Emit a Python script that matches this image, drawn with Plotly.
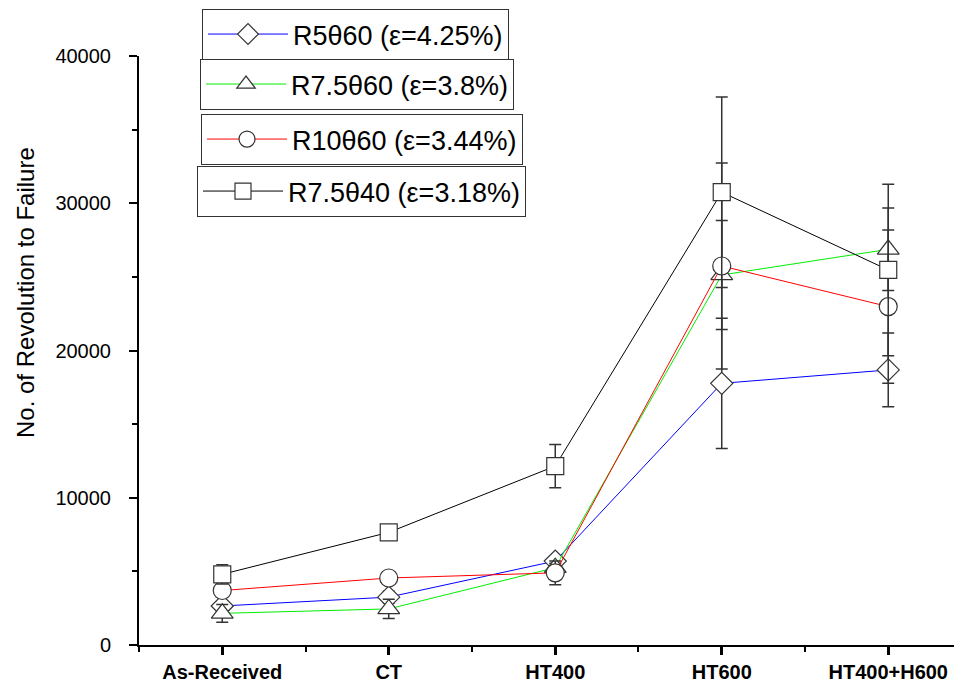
import plotly.graph_objects as go

categories = ["As-Received", "CT", "HT400", "HT600", "HT400+H600"]
x_pos = [0, 1, 2, 3, 4]

names = ["R5θ60 (ε=4.25%)", "R7.5θ60 (ε=3.8%)", "R10θ60 (ε=3.44%)", "R7.5θ40 (ε=3.18%)"]
r5_60 = [2650, 3250, 5700, 17770, 18680]
r5_60_err = [300, 400, 300, 4420, 2500]
r75_60 = [2150, 2450, 5250, 25130, 26870]
r75_60_err = [600, 650, 300, 3700, 2800]
r10_60 = [3700, 4550, 4900, 25740, 22980]
r10_60_err = [300, 400, 800, 7000, 5200]
r75_40 = [4800, 7650, 12150, 30750, 25470]
r75_40_err = [650, 200, 1470, 6470, 5820]

series = [
    (names[0], r5_60, r5_60_err, "#0000ff", "diamond", 17, "legend"),
    (names[1], r75_60, r75_60_err, "#00ee00", "triangle-up", 19, "legend2"),
    (names[2], r10_60, r10_60_err, "#ff0000", "circle", 18, "legend3"),
    (names[3], r75_40, r75_40_err, "#000000", "square", 17, "legend4"),
]

FONT = "Arial, 'Liberation Sans', sans-serif"
OFF = 8  # page body margin
W, H = 962 - OFF, 686 - OFF

fig = go.Figure()
for name, vals, errs, col, sym, size, lg in series:
    fig.add_trace(go.Scatter(
        x=x_pos, y=vals, name=name, mode="lines+markers",
        line=dict(color=col, width=1),
        marker=dict(symbol=sym, size=size, color="white",
                    line=dict(color="#333333", width=1.2)),
        error_y=dict(type="data", array=errs, visible=True, color="#333333",
                     thickness=1.5, width=6),
        legend=lg,
    ))

legend_common = dict(
    xref="container", yref="container", xanchor="left", yanchor="top",
    bgcolor="white", bordercolor="#333333", borderwidth=1,
    font=dict(family=FONT, size=27, color="black"),
    itemwidth=80, tracegroupgap=0,
)
legend_boxes = [(202, 9), (200, 59), (201, 114), (197, 166)]
lkeys = ["legend", "legend2", "legend3", "legend4"]
legends = {}
for key, (lx, ly) in zip(lkeys, legend_boxes):
    legends[key] = dict(legend_common, x=(lx - OFF) / W, y=1 - (ly - OFF) / H)

fig.update_layout(
    width=W, height=H,
    margin=dict(l=139 - OFF, r=0, t=56 - OFF, b=41, autoexpand=False),
    plot_bgcolor="white", paper_bgcolor="white",
    showlegend=True,
    font=dict(family=FONT, color="black"),
    xaxis=dict(
        range=[-0.5, 4.443], tickmode="array", tickvals=x_pos, ticktext=categories,
        showgrid=False, zeroline=False, showline=True, linecolor="black", linewidth=2,
        ticks="outside", ticklen=8, tickwidth=2.5, tickcolor="black",
        tickfont=dict(family=FONT, size=20, color="black", weight="bold"),
        ticklabelstandoff=0,
        minor=dict(tickvals=[-0.5, 0.5, 1.5, 2.5, 3.5], ticks="outside", ticklen=5,
                   tickwidth=2, tickcolor="black", showgrid=False),
    ),
    yaxis=dict(
        range=[0, 40000], tickmode="linear", tick0=0, dtick=10000, tickformat="d",
        showgrid=False, zeroline=False, showline=True, linecolor="black", linewidth=2,
        ticks="outside", ticklen=8, tickwidth=2, tickcolor="black",
        tickfont=dict(family=FONT, size=20, color="black"),
        ticklabelstandoff=14,
        minor=dict(dtick=5000, ticks="outside", ticklen=5, tickwidth=1.5,
                   tickcolor="black", showgrid=False),
    ),
    annotations=[dict(
        text="No. of Revolution to Failure", textangle=-90,
        xref="paper", yref="paper", x=-(139 - 25) / (W - 131), y=(645 - 293) / 589,
        xanchor="center", yanchor="middle", showarrow=False,
        font=dict(family=FONT, size=24, color="black"),
    )],
    **legends,
)

fig.write_html("out.html")
